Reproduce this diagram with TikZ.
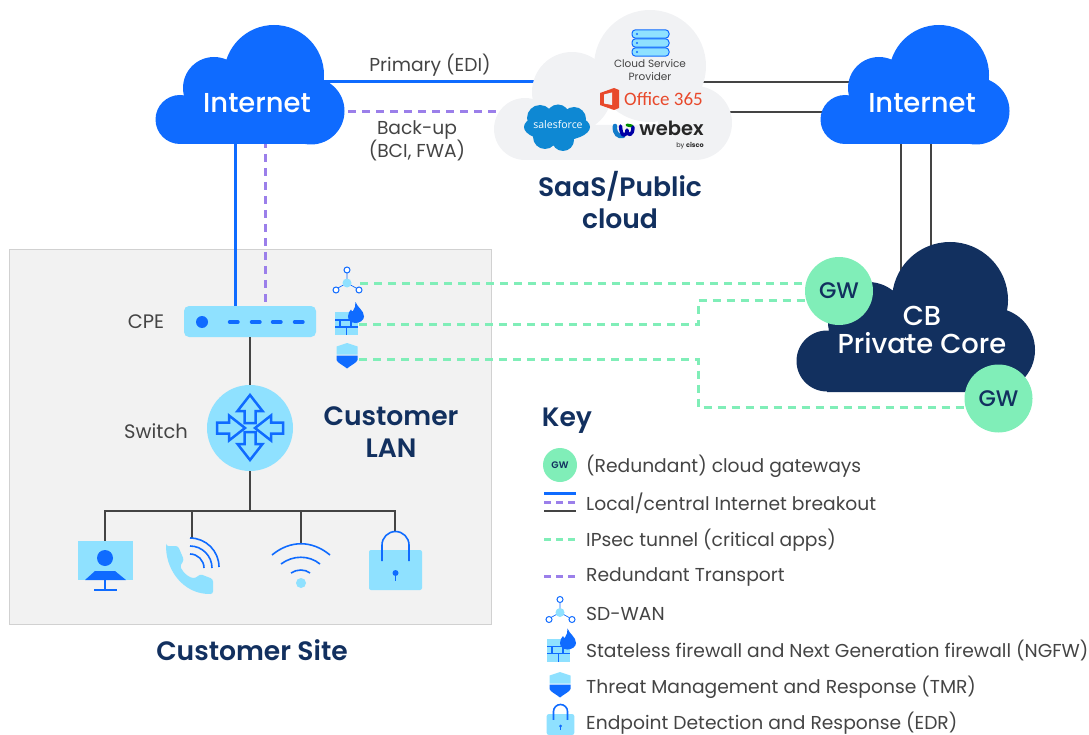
\documentclass[tikz,border=0pt]{standalone}
\usepackage{fontspec}
\setmainfont{Poppins}
\newfontfamily\semi{Poppins SemiBold}
\newfontfamily\medi{Poppins Medium}
\newfontfamily\logo{Open Sans}
\newfontfamily\narrowlogo{Carlito}
\usepackage{tikz}
\usetikzlibrary{positioning}
\definecolor{navy}{HTML}{12305F}
\definecolor{inet}{HTML}{0F6BFF}
\definecolor{sky}{HTML}{8FE1FF}
\definecolor{mint}{HTML}{80EEB8}
\definecolor{lilac}{HTML}{9B7FEA}
\definecolor{ink}{HTML}{444444}
\definecolor{haze}{HTML}{F1F2F4}
\definecolor{msred}{HTML}{E8492B}
\tikzset{
  txt/.style={text=ink,font=\fontsize{#1}{#1}\selectfont,inner sep=0pt},
  txt/.default=18.7,
  keytxt/.style={txt,anchor=west},
  title/.style={text=navy,font=\fontsize{26.6}{32}\semi,align=center,inner sep=0pt},
  cloudtxt/.style={text=white,font=\fontsize{27.4}{28}\medi,align=center,inner sep=0pt},
  gw/.style={circle,fill=mint,text=navy,inner sep=0pt,minimum size=68pt,font=\fontsize{22.5}{22}\medi},
  wire/.style={ink,line width=1.5pt},
  bluewire/.style={inet,line width=3pt},
  purpdash/.style={lilac,line width=3pt,dash pattern=on 8pt off 6pt},
  mintdash/.style={mint,line width=3pt,dash pattern=on 8pt off 6pt},
  iconline/.style={inet,line width=1.6pt},
  pics/inetcloud/.style={code={
    \fill[inet] (25,94.5) circle (24.5pt) (59,63) circle (31pt) (119,50) circle (50pt) (156,86) circle (33.5pt) (25,85) rectangle (156,119);
  }},
  pics/sdwan/.style={code={
    \draw[inet,line width=.7pt] (0,0)--(0,-10) (0,0)--(-9,5) (0,0)--(9,5);
    \draw[inet,line width=1pt,fill=white] (0,-13) circle (3pt) (-11,7) circle (3pt) (12,7) circle (3pt);
    \fill[sky] (0,0) circle (4.5pt);
  }},
  pics/firewall/.style={code={
    \fill[sky] (-11.5,-11.5) rectangle (11.5,11.5);
    \draw[inet,line width=1.4pt] (-11.5,-3.5) -- (11.5,-3.5) (-11.5,3.5) -- (11.5,3.5) (-6.5,-3.5) -- (-6.5,3.5) (4.5,-3.5) -- (4.5,3.5) (0,3.5) -- (0,11.5);
    \fill[inet] (9,-21.5) .. controls (11,-16) and (17.5,-13) .. (17.5,-7) .. controls (17.5,-3) and (13,-.5) .. (9,-.5) .. controls (4.5,-.5) and (1.5,-3.5) .. (1.5,-7) .. controls (1.5,-10) and (3,-12.5) .. (4.5,-14) .. controls (5,-12.5) and (5.5,-12) .. (6.5,-12.5) .. controls (8,-15) and (9.5,-18) .. (9,-21.5) -- cycle;
  }},
  pics/shield/.style={code={
    \fill[sky] (-10.5,-9.5) -- (0,-13) -- (10.5,-9.5) -- (10.5,-1.5) -- (-10.5,-1.5) -- cycle;
    \fill[inet] (-10.5,-.5) -- (10.5,-.5) -- (10.5,4) .. controls (9.5,7) and (4,9) .. (0,12.5) .. controls (-4,9) and (-9.5,7) .. (-10.5,4) -- cycle;
  }},
  pics/padlock/.style={code={
    \fill[sky,rounded corners=2pt] (-26.5,-20) rectangle (26.5,20);
    \draw[iconline] (-13.5,-9) -- (-13.5,-25) arc[start angle=180,end angle=0,radius=13.5pt] -- (13.5,-9);
    \fill[inet] (0,3) circle (3pt);
    \draw[inet,line width=1pt] (0,3) -- (0,11);
  }},
  pics/inarrow/.style={code={
    \draw[inet,line width=2.5pt,line join=miter] (-5.5,0) -- (-5.5,-12) -- (-12.5,-12) -- (0,-28) -- (12.5,-12) -- (5.5,-12) -- (5.5,0) -- cycle;
  }},
}
\begin{document}
\begin{tikzpicture}[x=1pt,y=-1pt]
  \useasboundingbox (0,0) rectangle (1089,735);
  % site panel
  \node[draw=black!18,fill=black!5,line width=.8pt,minimum width=482pt,minimum height=375pt,inner sep=0pt] (site) at (250,436.5) {};
  % end points of the links
  \coordinate (inetlp) at (320,82);
  \coordinate (inetlb) at (320,112);
  \coordinate (saasp) at (545,82);
  \coordinate (saasb) at (515,112);
  \coordinate (saasr1) at (700,82);
  \coordinate (saasr2) at (710,112);
  \coordinate (inetr1) at (860,82);
  \coordinate (inetr2) at (850,112);
  \coordinate (inetd1) at (901,135);
  \coordinate (inetd2) at (931,135);
  \coordinate (cored1) at (901,275);
  \coordinate (cored2) at (931,275);
  \coordinate (inetdl) at (235,135);
  \coordinate (inetdr) at (265,140);
  \coordinate (cpedl) at (235,310);
  \coordinate (cpedr) at (265,308);
  \draw[bluewire] (inetlp) -- (saasp);
  \draw[purpdash] (inetlb) -- (saasb);
  \draw[wire] (saasr1) -- (inetr1);
  \draw[wire] (saasr2) -- (inetr2);
  \draw[wire] (inetd1) -- (cored1);
  \draw[wire] (inetd2) -- (cored2);
  \draw[bluewire] (inetdl) -- (cpedl);
  \draw[purpdash] (inetdr) -- (cpedr);
  % clouds
  \pic at (155,25) {inetcloud};
  \pic at (820,25) {inetcloud};
  \fill[haze] (525,129) circle (31pt) (572,92) circle (40pt) (650,66) circle (56pt) (695,123) circle (37pt) (525,125) rectangle (695,160);
  \fill[navy] (827,361) circle (30.5pt) (868,322) circle (40pt) (950,300) circle (58pt) (993,350) circle (42pt) (827,340) rectangle (993,392);
  \node[cloudtxt] (inetl) at (257,103) {Internet};
  \node[cloudtxt] (inetr) at (922,103) {Internet};
  \node[cloudtxt] (core) at (922,330) {CB\\Private Core};
  % saas contents
  \foreach \y in {34,43,52}{
    \draw[inet,fill=sky,line width=1pt,rounded corners=3.5pt] (632,\y-4.2) rectangle (669,\y+4.2);
    \fill[inet] (637,\y) circle (1.2pt);
  }
  \node[text=ink,font=\fontsize{10.5}{13}\selectfont,align=center,inner sep=0pt] (csp) at (650,70) {Cloud Service\\Provider};
  \fill[msred] (600,93) -- (614,88) -- (619,90) -- (619,108) -- (614,110) -- (600,105) -- cycle;
  \fill[haze] (604,94.5) -- (612,92.5) -- (612,105) -- (604,103.5) -- cycle;
  \node[text=msred,font=\fontsize{19}{20}\narrowlogo,inner sep=0pt] (o365) at (663.5,99) {Office 365};
  \fill[cyan!70!blue] (557,127) ellipse (33pt and 14pt) (540,118) circle (13pt) (558,116) circle (11.5pt) (574,119) circle (12pt) (545,137) circle (12pt) (563,140) circle (11pt);
  \node[text=white,font=\fontsize{10.5}{11}\logo,inner sep=0pt] (sforce) at (558,125) {salesforce};
  \draw[cyan!60!blue,line width=4.5pt,line cap=round] (615,126) .. controls (614,134) and (619,137) .. (623,136);
  \draw[green!55!black,line width=3pt,line cap=round] (627,125) -- (632,126);
  \draw[blue!65!black,line width=3.4pt,line join=round,line cap=round] (620.5,126) .. controls (621,138) and (626.5,137) .. (627,130) .. controls (627.5,137) and (633,136) .. (633,127);
  \node[text=black!85,font=\fontsize{19.5}{20}\semi,inner sep=0pt] (webex) at (671.5,128) {webex};
  \node[text=black!85,font=\fontsize{6.5}{7}\selectfont,inner sep=0pt] (cisco) at (690,146) {by \textbf{cisco}};
  % titles
  \node[txt] (prim) at (430,65.5) {Primary (EDI)};
  \node[txt,align=center,font=\fontsize{18.7}{22}\selectfont] (back) at (417,140.5) {Back-up\\(BCI, FWA)};
  \node[title] (saas) at (620,200.5) {SaaS/Public\\cloud};
  \node[title] (lan) at (391,432) {Customer\\LAN};
  \node[title] (sitettl) at (252,650) {Customer Site};
  \node[title] (key) at (567,421) {Key};
  \node[txt=19.5] (cpetxt) at (146,322) {CPE};
  \node[txt=19.5] (swtxt) at (156,431) {Switch};
  % cpe and switch
  \node[fill=sky,rounded corners=5pt,minimum width=132pt,minimum height=31pt,inner sep=0pt] (cpe) at (250,321.5) {};
  \fill[inet] (202,322) circle (6pt);
  \foreach \x in {228,250,271,293}
    \draw[inet,line width=3.4pt,line cap=round] (\x+1.5,322) -- (\x+10,322);
  \node[circle,fill=sky,minimum size=86pt,inner sep=0pt] (sw) at (250,428) {};
  \pic at (250,423) {inarrow};
  \pic[rotate=180] at (250,432) {inarrow};
  \pic[rotate=-90] at (217,428) {inarrow};
  \pic[rotate=90] at (283,428) {inarrow};
  \draw[wire] (cpe) -- (sw);
  % lan tree
  \coordinate (fork) at (250,511);
  \coordinate (pc) at (105,541);
  \coordinate (ph) at (192,538);
  \coordinate (wf) at (301,543);
  \coordinate (lk) at (395,531);
  \draw[wire] (sw) -- (fork);
  \draw[wire] (pc) |- (lk |- fork) -- (lk);
  \draw[wire] (ph) -- (ph |- fork);
  \draw[wire] (wf) -- (wf |- fork);
  % monitor
  \fill[sky] (77.5,541) rectangle (133,580);
  \fill[inet] (105,558) circle (8pt);
  \fill[inet] (85,580) -- (95,571) -- (115,571) -- (126,580) -- cycle;
  \draw[iconline] (105,580) -- (105,589) (94,590) -- (117,590);
  % phone
  \fill[sky,rounded corners=2.5pt] (166,546) -- (178,546) -- (184,560) -- (180,566) .. controls (184,574) and (190,578) .. (196,578) -- (200,574) -- (213,579) -- (213,594) -- (208,594) .. controls (184,592) and (167,572) .. (166,546) -- cycle;
  \draw[iconline] (190,538) arc[start angle=90,end angle=0,radius=29pt];
  \draw[iconline] (190,546) arc[start angle=90,end angle=0,radius=22pt];
  \draw[iconline] (190,554) arc[start angle=90,end angle=0,radius=14pt];
  % wifi
  \draw[iconline] (272,555) .. controls (290,540) and (312,540) .. (330,555);
  \draw[iconline] (281,564) .. controls (293,555) and (309,555) .. (320,564);
  \draw[iconline] (291,573) .. controls (297,569) and (305,569) .. (310,573);
  \fill[sky] (301,583) circle (5pt);
  % lock
  \pic at (395.5,570) {padlock};
  % small icons in the panel
  \pic at (347,283) {sdwan};
  \pic at (346.5,323.5) {firewall};
  \pic at (347,356) {shield};
  % tunnels
  \coordinate (tun1) at (360,283);
  \coordinate (tun2) at (359,324.5);
  \coordinate (tun3) at (359,359.5);
  \coordinate (gw1a) at (806,283);
  \coordinate (gw1b) at (806,300);
  \coordinate (gw2a) at (965,407);
  \draw[mintdash] (tun1) -- (gw1a);
  \draw[mintdash] (tun2) -- (698,324.5) -- (698,300) -- (gw1b);
  \draw[mintdash] (tun3) -- (698,359.5) -- (698,407) -- (gw2a);
  \node[gw] (gw1) at (839,291) {GW};
  \node[gw] (gw2) at (998.5,398.5) {GW};
  % key
  \node[gw,minimum size=34pt,font=\fontsize{9.5}{10}\semi] (gwk) at (560,465) {GW};
  \node[keytxt] (k1) at (586,466.5) {(Redundant) cloud gateways};
  \node[keytxt] (k2) at (586,503.5) {Local/central Internet breakout};
  \node[keytxt] (k3) at (586,540.5) {IPsec tunnel (critical apps)};
  \node[keytxt] (k4) at (586,577.5) {Redundant Transport};
  \node[keytxt] (k5) at (586,613.5) {SD-WAN};
  \node[keytxt] (k6) at (586,650.5) {Stateless firewall and Next Generation firewall (NGFW)};
  \node[keytxt] (k7) at (586,687.5) {Threat Management and Response (TMR)};
  \node[keytxt] (k8) at (586,723.5) {Endpoint Detection and Response (EDR)};
  \coordinate (ka1) at (544,493);
  \coordinate (kb1) at (576,493);
  \coordinate (ka2) at (544,502);
  \coordinate (kb2) at (576,502);
  \coordinate (ka3) at (544,511);
  \coordinate (kb3) at (576,511);
  \coordinate (ka4) at (544,539);
  \coordinate (kb4) at (576,539);
  \coordinate (ka5) at (544,576);
  \coordinate (kb5) at (576,576);
  \draw[bluewire] (ka1) -- (kb1);
  \draw[purpdash,dash pattern=on 7pt off 5pt] (ka2) -- (kb2);
  \draw[wire] (ka3) -- (kb3);
  \draw[mintdash,dash pattern=on 7pt off 5pt] (ka4) -- (kb4);
  \draw[purpdash,dash pattern=on 7pt off 5pt] (ka5) -- (kb5);
  \pic at (560,612.5) {sdwan};
  \pic at (558.5,650) {firewall};
  \pic at (560,685) {shield};
  \pic[scale=.52] at (560.5,724.5) {padlock};
\end{tikzpicture}
\end{document}
